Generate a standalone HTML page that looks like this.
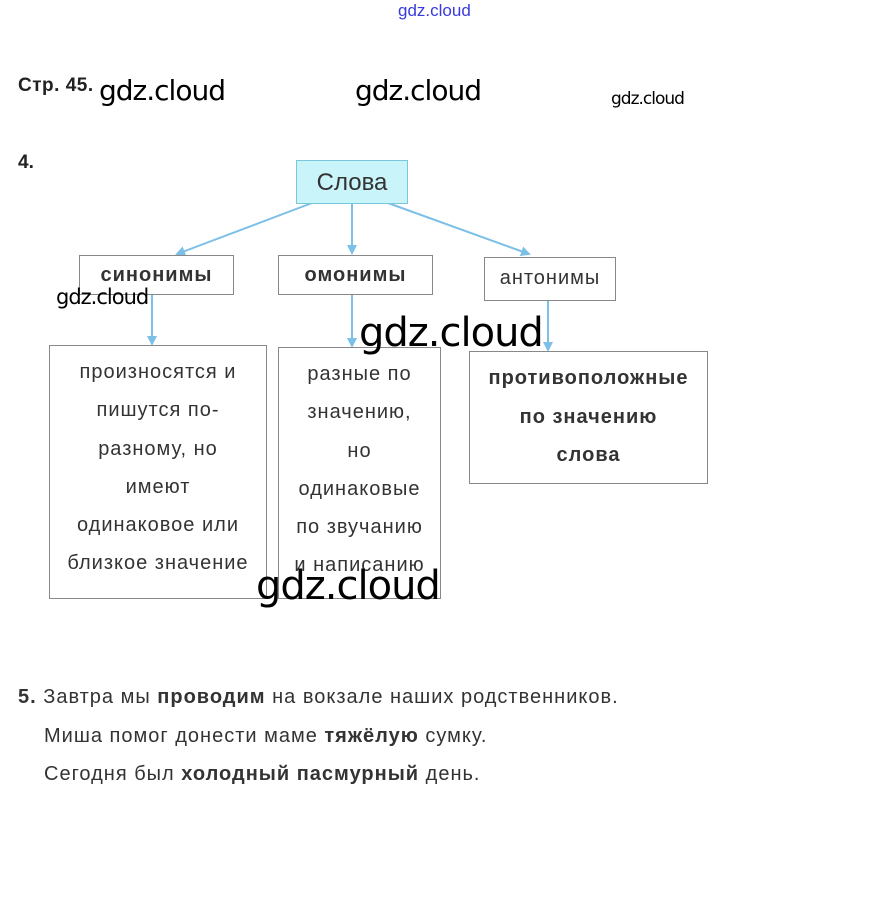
<!DOCTYPE html>
<html><head><meta charset="utf-8"><style>
body{margin:0;width:873px;height:910px;background:#fff;position:relative;overflow:hidden;font-family:"Liberation Sans",sans-serif;}
.a{position:absolute;white-space:nowrap;}
.box{position:absolute;border:1px solid #888;box-sizing:border-box;background:#fff;}
.c{position:absolute;text-align:center;color:#333;font-size:20px;letter-spacing:1px;white-space:nowrap;}
.w{position:absolute;font-family:"DejaVu Sans",sans-serif;color:#000;white-space:nowrap;letter-spacing:-1px;}
</style></head><body>
<div class="a" style="left:398px;top:1px;font-size:17px;color:#3a3adc;">gdz.cloud</div>
<div class="a" style="left:18px;top:75px;font-size:19px;font-weight:bold;color:#222;letter-spacing:0.5px;">Стр. 45.</div>
<div class="a" style="left:18px;top:152px;font-size:19px;font-weight:bold;color:#222;">4.</div>

<svg class="a" style="left:0;top:0" width="873" height="910">
<defs><marker id="m" markerWidth="10" markerHeight="10" refX="8" refY="5" orient="auto" markerUnits="userSpaceOnUse"><path d="M0,0 L10,5 L0,10 z" fill="#7cc0e8"/></marker></defs>
<g stroke="#7cc0e8" stroke-width="2" fill="none">
<line x1="312" y1="203" x2="177" y2="254" marker-end="url(#m)"/>
<line x1="352" y1="203" x2="352" y2="253" marker-end="url(#m)"/>
<line x1="388" y1="203" x2="529" y2="254" marker-end="url(#m)"/>
<line x1="152" y1="294" x2="152" y2="344" marker-end="url(#m)"/>
<line x1="352" y1="294" x2="352" y2="346" marker-end="url(#m)"/>
<line x1="548" y1="300" x2="548" y2="350" marker-end="url(#m)"/>
</g></svg>

<div class="box" style="left:296px;top:160px;width:112px;height:44px;background:#c8f4fa;border-color:#78c8dc;"></div>
<div class="c" style="left:296px;top:169px;width:112px;font-size:24px;letter-spacing:0;">Слова</div>
<div class="box" style="left:79px;top:255px;width:155px;height:40px;"></div>
<div class="c" style="left:79px;top:264px;width:155px;font-weight:bold;">синонимы</div>
<div class="box" style="left:278px;top:255px;width:155px;height:40px;"></div>
<div class="c" style="left:278px;top:264px;width:155px;font-weight:bold;">омонимы</div>
<div class="box" style="left:484px;top:257px;width:132px;height:44px;"></div>
<div class="c" style="left:484px;top:267px;width:132px;">антонимы</div>

<div class="box" style="left:49px;top:345px;width:218px;height:254px;"></div>
<div class="c" style="left:49px;top:353px;width:218px;line-height:38.3px;">произносятся и<br>пишутся по-<br>разному, но<br>имеют<br>одинаковое или<br>близкое значение</div>
<div class="box" style="left:278px;top:347px;width:163px;height:252px;"></div>
<div class="c" style="left:278px;top:355px;width:163px;line-height:38.3px;">разные по<br>значению,<br>но<br>одинаковые<br>по звучанию<br>и написанию</div>
<div class="box" style="left:469px;top:351px;width:239px;height:133px;"></div>
<div class="c" style="left:469px;top:359px;width:239px;line-height:38.5px;font-weight:bold;">противоположные<br>по значению<br>слова</div>

<div class="a" style="left:18px;top:686px;font-size:20px;letter-spacing:1px;color:#333;"><b>5.</b> Завтра мы <b>проводим</b> на вокзале наших родственников.</div>
<div class="a" style="left:44px;top:725px;font-size:20px;letter-spacing:1px;color:#333;">Миша помог донести маме <b>тяжёлую</b> сумку.</div>
<div class="a" style="left:44px;top:763px;font-size:20px;letter-spacing:1px;color:#333;">Сегодня был <b>холодный пасмурный</b> день.</div>

<div class="w" style="left:99px;top:74px;font-size:28px;">gdz.cloud</div>
<div class="w" style="left:355px;top:74px;font-size:28px;">gdz.cloud</div>
<div class="w" style="left:611px;top:89px;font-size:17px;">gdz.cloud</div>
<div class="w" style="left:56px;top:285px;font-size:21px;">gdz.cloud</div>
<div class="w" style="left:359px;top:310px;font-size:40px;">gdz.cloud</div>
<div class="w" style="left:256px;top:563px;font-size:40px;">gdz.cloud</div>
</body></html>
